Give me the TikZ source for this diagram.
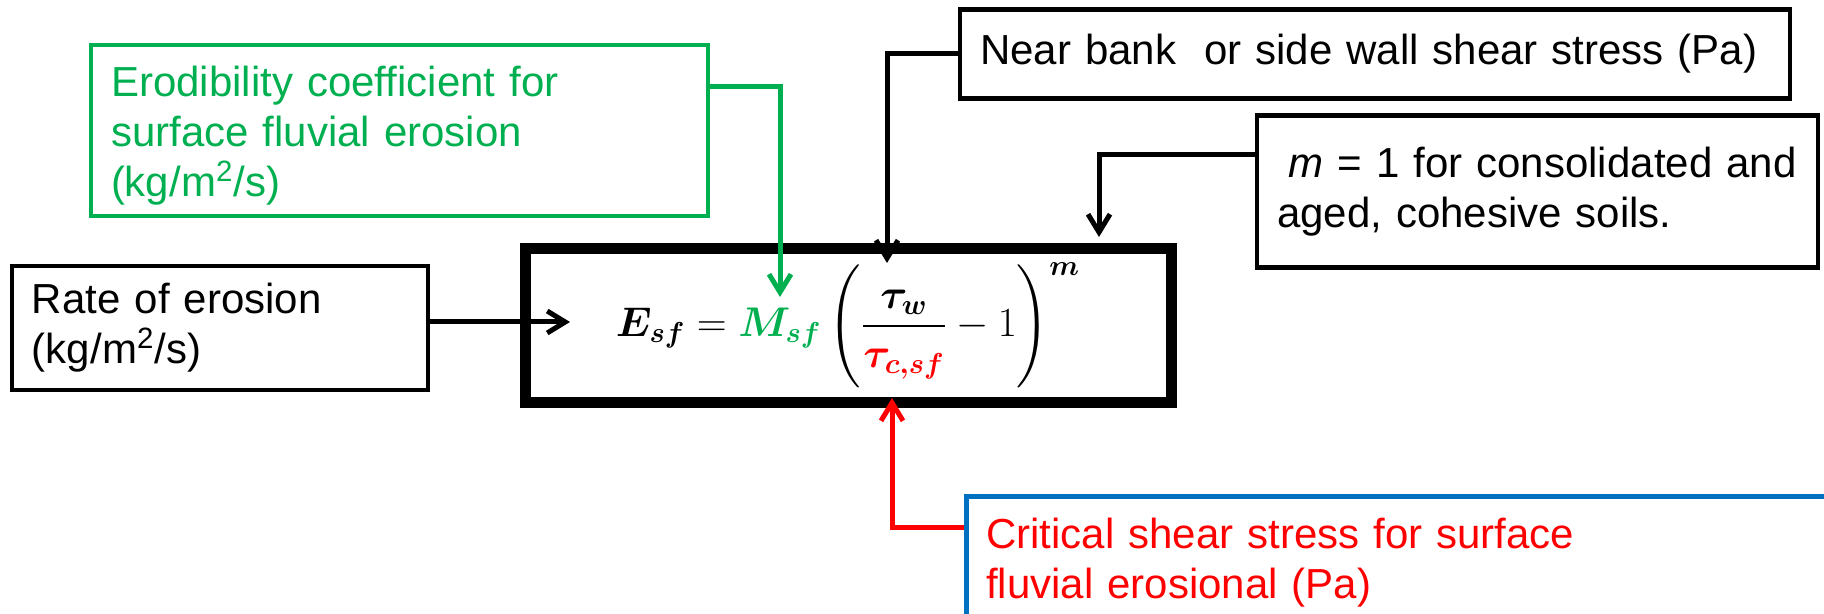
\documentclass[tikz,border=0pt]{standalone}
\usepackage{amsmath,amssymb}
\usepackage[no-math]{fontspec}
\setmainfont{Liberation Sans}
\usepackage{xcolor}
\usepackage{tikz}
\usetikzlibrary{positioning,arrows.meta}
\definecolor{ergreen}{RGB}{0,176,80}
\definecolor{erblue}{RGB}{0,112,192}
\definecolor{erred}{RGB}{255,0,0}

\begin{document}
\begin{tikzpicture}[
  x=0.5pt, y=-0.5pt,
  every node/.style={font=\fontsize{21}{25}\selectfont},
  box/.style={draw, line width=2.25pt, inner xsep=10pt, inner ysep=0pt, align=left},
  eqbox/.style={draw, line width=5.5pt, inner sep=0pt, font=\fontsize{20.5}{24}\selectfont},
  arr/.style={-{Straight Barb[length=9pt,width=11pt]}, line width=2.5pt},
]
\useasboundingbox (0,0) rectangle (1824,614);
\clip (0,0) rectangle (1824,614);

\node[eqbox, minimum width=323pt, minimum height=76.5pt] (eq) at (848,325.5)
  {$\displaystyle \boldsymbol{E_{sf}} = \textcolor{ergreen}{\boldsymbol{M_{sf}}}\left(\rule[-26pt]{0pt}{56pt}\frac{\boldsymbol{\tau_{w}}}{\rule{0pt}{18pt}\textcolor{erred}{\boldsymbol{\tau_{c,sf}}}} - 1\right)^{\boldsymbol{m}}$};

\node[box, draw=ergreen, text=ergreen, text width=288.5pt, minimum height=85.5pt] (erod) at (399.5,130.5)
  {Erodibility coefficient for\\surface fluvial erosion\\(kg/m\textsuperscript{2}/s)\par\vspace*{-5pt}};
\node[box, text width=395pt, minimum height=44.5pt] (nearb) at (1375,54)
  {Near bank\ \ or side wall shear stress (Pa)\par\vspace*{10pt}};
\node[box, text width=260.5pt, minimum height=76pt] (mexp) at (1537.5,191.5)
  {\hspace*{0.28em}\textit{m} = 1 for consolidated and\\aged, cohesive soils.\par\vspace*{18.5pt}};
\node[box, text width=188pt, minimum height=62pt] (rate) at (220,328)
  {Rate of erosion\\(kg/m\textsuperscript{2}/s)\par\vspace*{-5pt}};
\node[box, draw=erblue, text=erred, text width=440pt, inner ysep=10.75pt, anchor=north west] (crit) at (964,494)
  {Critical shear stress for surface\\fluvial erosional (Pa)\par\vspace*{25pt}};

\coordinate (gtip) at (780,297);
\coordinate (ktip) at (887,263);
\coordinate (mtip) at (1099,237);
\coordinate (rtip) at (570,322);
\coordinate (ctip) at (892,398);

\draw[arr, ergreen] ([yshift=21.75pt]erod.east) -| (gtip);
\draw[arr] (nearb.west) -| (ktip);
\draw[arr] ([yshift=18.25pt]mexp.west) -| (mtip);
\draw[arr] (rate.east |- rtip) -- (rtip);
\draw[arr, erred] ([yshift=-16.5pt]crit.north west) -| (ctip);
\end{tikzpicture}
\end{document}
